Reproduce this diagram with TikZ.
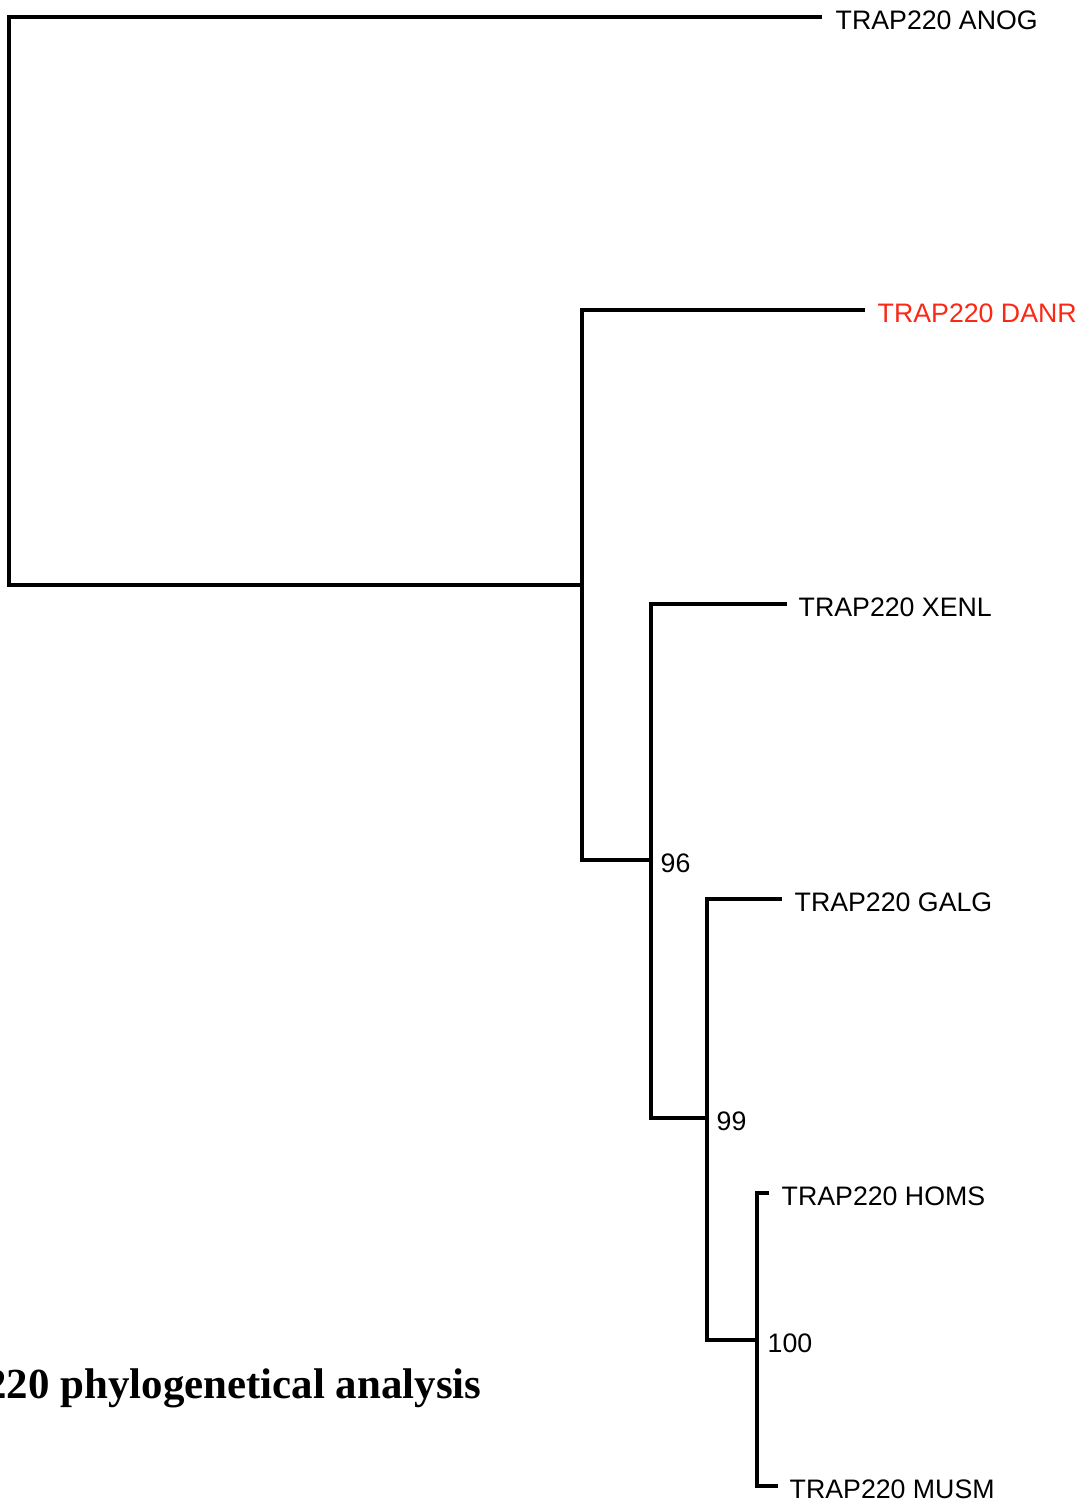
\documentclass[tikz,border=0pt]{standalone}
\usepackage{fontspec}
\setmainfont{Liberation Sans}
\newfontfamily\titlefont{Liberation Serif}
\usetikzlibrary{positioning}
\definecolor{danrred}{RGB}{250,40,20}
\tikzset{
	branch/.style={line width=1.3pt},
	leaf/.style={inner sep=0pt, font=\fontsize{7.6}{9}\selectfont, yshift=-0.9pt},
	boot/.style={inner sep=0pt, font=\fontsize{7.6}{9}\selectfont, yshift=-0.9pt},
}
\begin{document}
\begin{tikzpicture}[x=0.01cm, y=-0.01cm]
	\useasboundingbox (0,0) rectangle (1085,1506);
	% inner nodes
	\coordinate (root) at (9,300);
	\coordinate (c1) at (582,585);
	\coordinate (c2) at (651,860);
	\coordinate (c3) at (707,1118);
	\coordinate (c4) at (757,1340);
	% tips
	\coordinate (anog) at (822,17);
	\coordinate (danr) at (865,310);
	\coordinate (xenl) at (787,604);
	\coordinate (galg) at (782,899);
	\coordinate (homs) at (769,1193);
	\coordinate (musm) at (778,1486);
	\foreach \a/\b in {root/anog, root/c1, c1/danr, c1/c2, c2/xenl, c2/c3, c3/galg, c3/c4, c4/homs, c4/musm}
		\draw[branch] (\a) |- (\b);
	\node[leaf, right=0.13cm of anog] (anoglab) {TRAP220 ANOG};
	\node[leaf, right=0.12cm of danr, text=danrred] (danrlab) {TRAP220 DANR};
	\node[leaf, right=0.11cm of xenl] (xenllab) {TRAP220 XENL};
	\node[leaf, right=0.12cm of galg] (galglab) {TRAP220 GALG};
	\node[leaf, right=0.12cm of homs] (homslab) {TRAP220 HOMS};
	\node[leaf, right=0.11cm of musm] (musmlab) {TRAP220 MUSM};
	\node[boot, right=0.09cm of c2] (c2lab) {96};
	\node[boot, right=0.09cm of c3] (c3lab) {99};
	\node[boot, right=0.10cm of c4] (c4lab) {100};
	\node[anchor=base east, inner sep=0pt, font=\titlefont\bfseries\fontsize{12.2}{14}\selectfont] (title) at (482,1398) {220 phylogenetical analysis};
\end{tikzpicture}
\end{document}
